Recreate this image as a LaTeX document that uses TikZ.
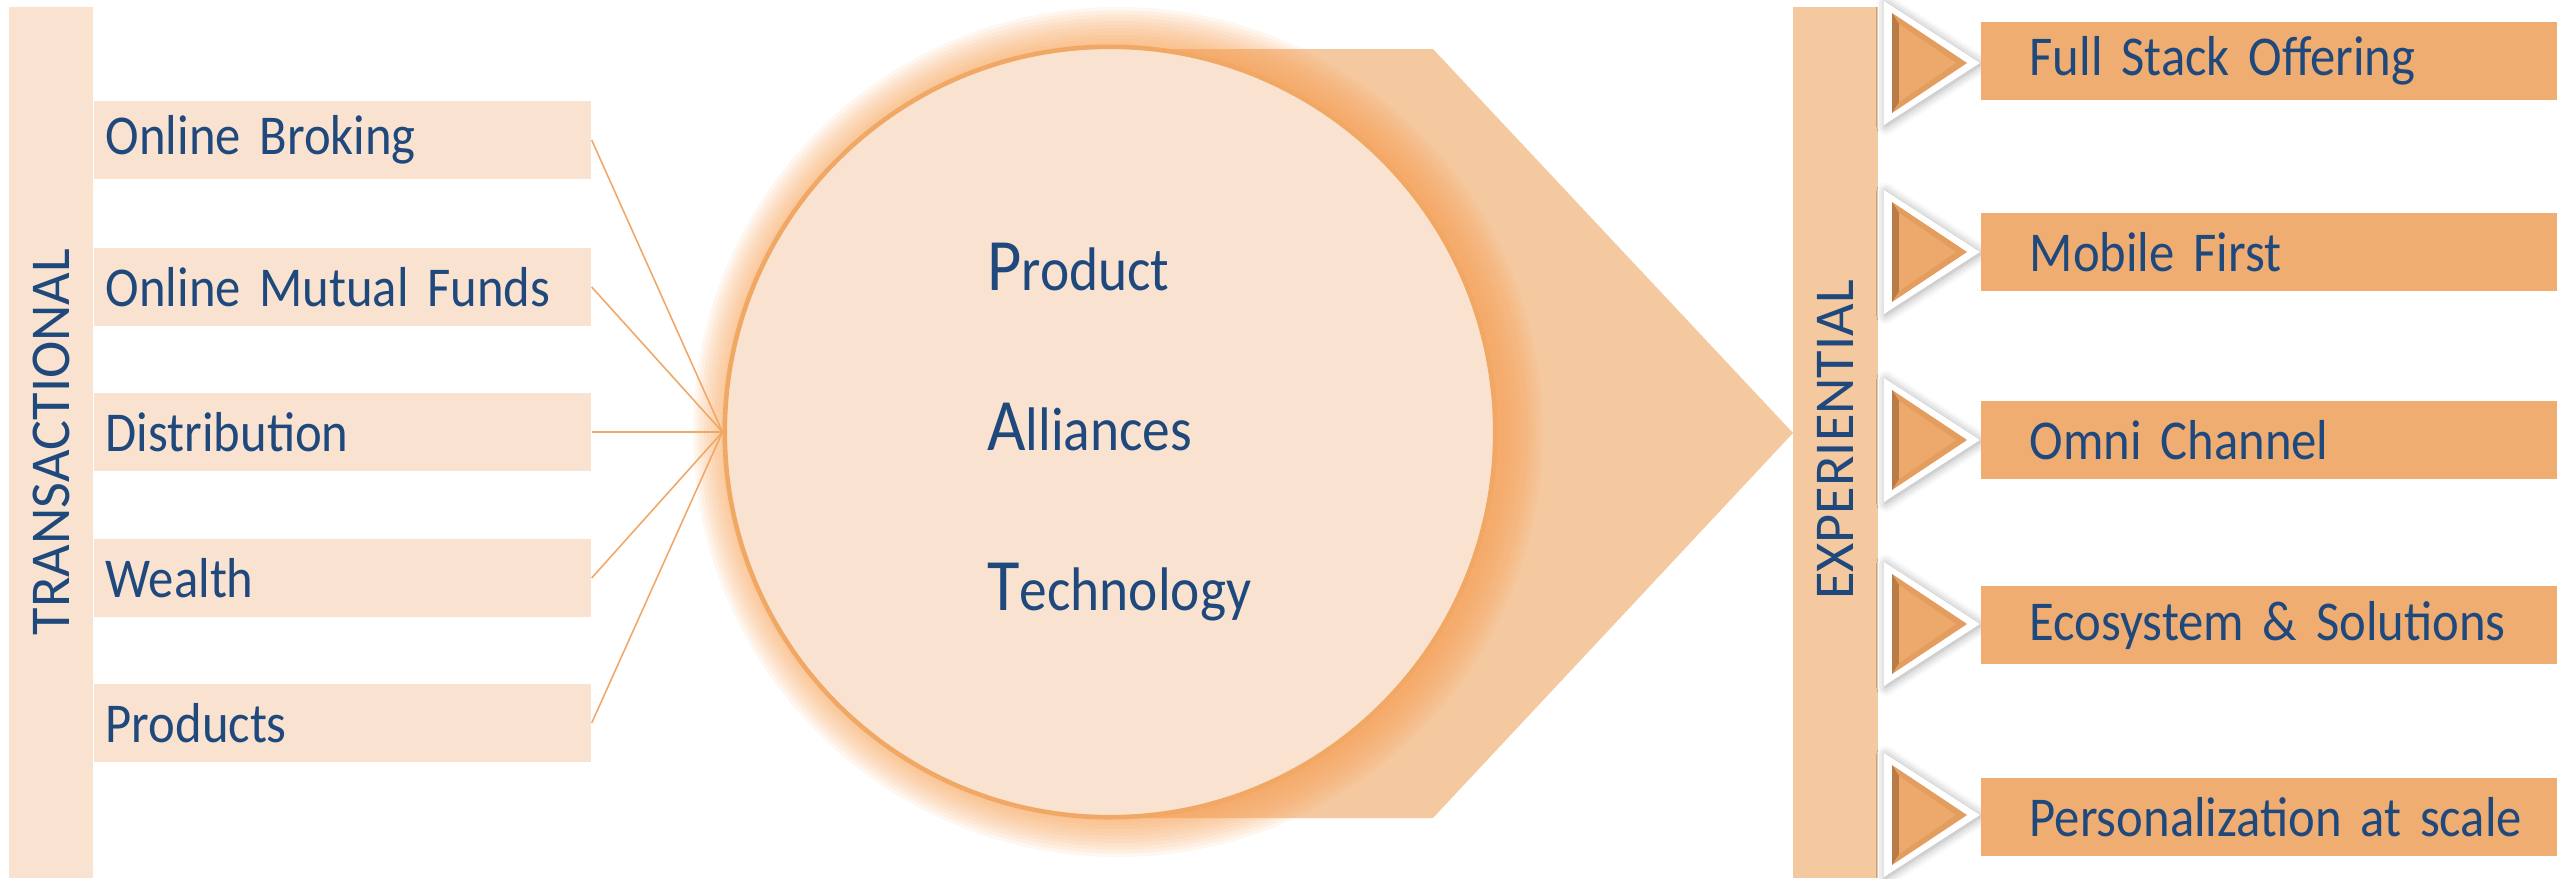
\documentclass[tikz,border=0pt]{standalone}
\usepackage{fontspec}
\setmainfont{Carlito}
\newfontfamily\boxfont[FakeStretch=0.9]{Carlito}
\usetikzlibrary{positioning,shadows.blur}
\definecolor{lightpeach}{HTML}{F9E3D0}
\definecolor{peach}{HTML}{F5C9A0}
\definecolor{orangebox}{HTML}{EFAD71}
\definecolor{linec}{HTML}{F0A868}
\definecolor{rimc}{HTML}{F0A864}
\definecolor{glowc}{HTML}{F7A257}
\definecolor{textblue}{HTML}{1F497D}
\definecolor{tric}{HTML}{EDA86B}
\definecolor{tricmid}{HTML}{E29D5F}
\definecolor{tricdark}{HTML}{B97C46}
\newcommand\initial[1]{{\fontsize{21}{21}\selectfont#1}}
\tikzset{
  item/.style={fill=lightpeach, text=textblue, font=\boxfont\fontsize{16}{18}\selectfont,
    minimum height=0.77cm, inner xsep=0.12cm, inner ysep=0pt, text width=4.73cm,
    align=left, anchor=west},
  goal/.style={fill=orangebox, text=textblue, font=\boxfont\fontsize{16}{18}\selectfont,
    minimum height=0.78cm, inner sep=0pt, text width=5.76cm, align=left, anchor=west},
  sidelabel/.style={text=textblue, font=\fontsize{16}{18}\selectfont, rotate=90},
  core/.style={text=textblue, font=\boxfont\fontsize{17.5}{20}\selectfont, anchor=base west},
  hub/.style={circle, minimum size=7.7cm, fill=lightpeach, draw=rimc, line width=1.3pt},
  spoke/.style={draw=linec, line width=0.45pt},
  pointer/.style={fill=white, line join=round,
    blur shadow={shadow blur radius=2.5pt, shadow xshift=.4pt, shadow yshift=-.4pt, shadow opacity=35}},
}

\begin{document}
\begin{tikzpicture}[x=0.01cm,y=-0.01cm]
\useasboundingbox (0,0) rectangle (2560,878);
% left side
\fill[lightpeach] (9,7) rectangle (93,878);
\node[sidelabel] (trans) at (51,442) {TRANSACTIONAL};
\foreach \n/\y/\t in {ob/140/Online Broking, omf/287/Online Mutual Funds,
    dist/432/Distribution, wlth/578/Wealth, prods/723/Products}
  \node[item] (\n) at (93,\y) {\t};
% arrow behind the circle
\fill[peach] (1110,49) -- (1433,49) -- (1793,433) -- (1433,818) -- (1110,818) -- cycle;
\foreach \i in {0,...,11}
  \fill[glowc, opacity=.09] (1118,432) circle ({425-\i*3.5});
\node[hub] (hub) at (1110,432) {};
\foreach \n in {ob,omf,dist,wlth,prods}
  \draw[spoke] (\n.east) -- (hub.west);
\node[core] (prod) at (975,290) {\initial{P}roduct};
\node[core] (alli) at (975,450) {\initial{A}lliances};
\node[core] (tech) at (975,610) {\initial{T}echnology};
% right side
\fill[peach] (1793,7) rectangle (1878,878);
\node[sidelabel] (exp) at (1835,440) {EXPERIENTIAL};
\foreach \y in {63,252,440,624,815}{
  \path[pointer] (1884,\y-62) -- (1980,\y) -- (1884,\y+62) -- cycle;
  \fill[tricmid] (1892,\y-50) -- (1967,\y) -- (1892,\y+50) -- cycle;
  \fill[tricdark] (1892,\y-50) -- (1899,\y-39) -- (1899,\y+39) -- (1892,\y+50) -- cycle;
  \fill[tric] (1899,\y-39) -- (1956,\y) -- (1899,\y+39) -- cycle;
}
\foreach \n/\y/\t in {fso/61/Full Stack Offering, mf/252/Mobile First,
    oc/440/Omni Channel, eco/625/Ecosystem \& Solutions, pas/817/Personalization at scale}
  \node[goal] (\n) at (1980,\y) {\hspace*{0.49cm}\t};
\end{tikzpicture}
\end{document}
